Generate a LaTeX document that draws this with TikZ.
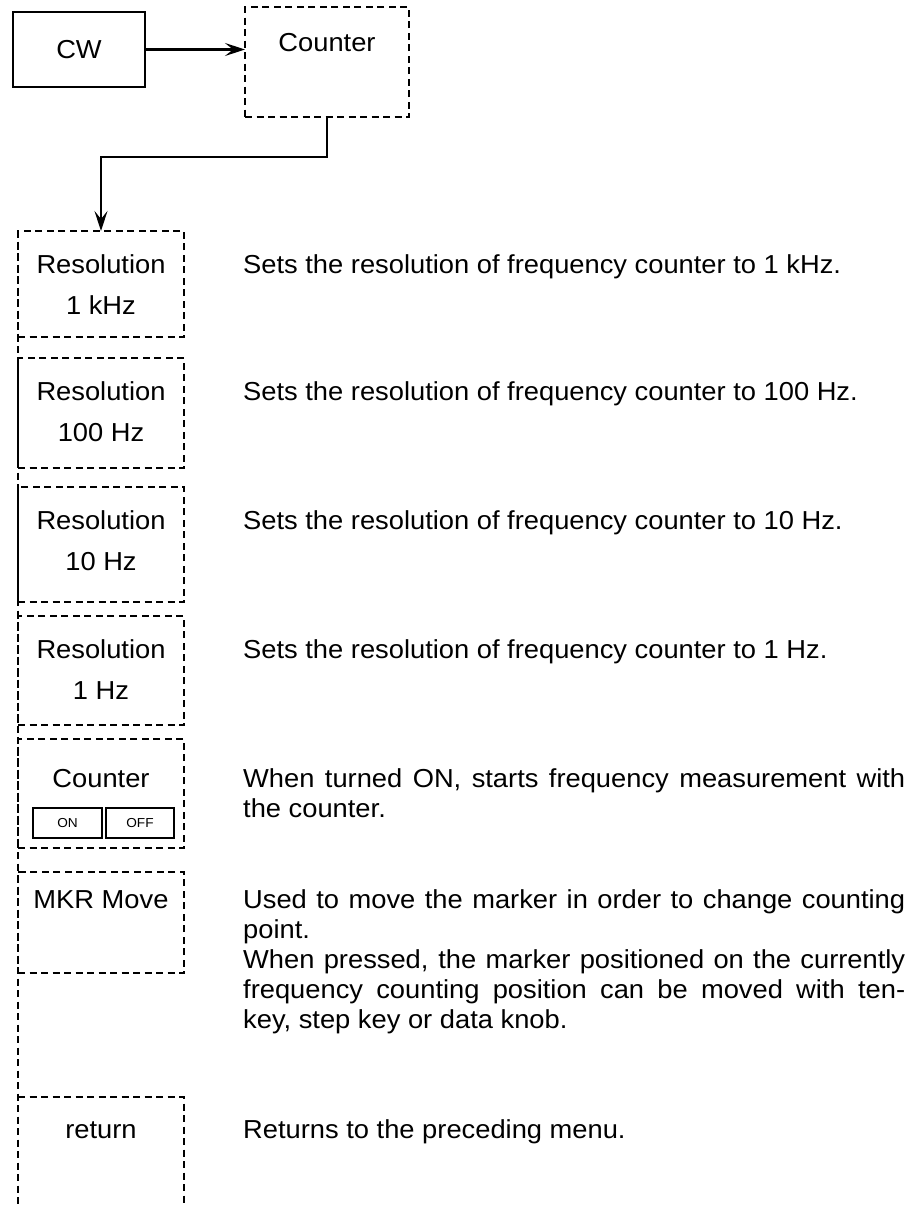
\documentclass[tikz,border=0pt]{standalone}
\usepackage{fontspec}
\setmainfont[FakeStretch=1.05]{Liberation Sans}
\usetikzlibrary{arrows.meta}

\tikzset{
  keyline/.style={line width=1.8pt, dash pattern=on 7pt off 4.5pt},
  keybox/.style={draw, keyline, anchor=north west, minimum width=166pt, inner sep=0pt, outer sep=0pt},
  keytext/.style={anchor=base, inner sep=0pt, font=\fontsize{26}{30}\selectfont},
  smallkey/.style={draw, line width=1.8pt, anchor=north west, minimum height=30pt, inner sep=0pt, outer sep=0pt, font=\fontsize{13}{15}\selectfont},
  desc/.style={anchor=base west, inner sep=0pt, font=\fontsize{26}{30}\selectfont},
  flow/.style={line width=2.2pt, -{Stealth[length=20pt, width=13pt, inset=8pt]}},
}

\begin{document}
\begin{tikzpicture}[x=1pt, y=-1pt]
  \useasboundingbox (0,0) rectangle (919,1205);
  % 上段のメニュー
  \node[draw, line width=2.4pt, anchor=north west, minimum width=132pt, minimum height=75pt, inner sep=0pt, outer sep=0pt, font=\fontsize{26}{30}\selectfont] (cw) at (13,12) {CW};
  \node[keybox, minimum width=164pt, minimum height=110pt] (ctr) at (245,7) {};
  \node[keytext] (ctrname) at (327,51) {Counter};

  % 分解能キー
  \foreach \i/\t/\b/\v in {1/231/337/1 kHz, 2/358/468/100 Hz, 3/487/602/10 Hz, 4/616/725/1 Hz} {
    \node[keybox, minimum height={\b-\t}] (key\i) at (18,\t) {};
    \node[keytext] (res\i) at (101,\t+42) {Resolution};
    \node[keytext] (val\i) at (101,\t+83) {\v};
    \node[desc] (desc\i) at (243,\t+42) {\parbox[t]{662pt}{Sets the resolution of frequency counter to \v.}};
  }

  % メニュー間の矢印
  \draw[flow] (cw.east) -- (cw.east -| ctr.west);
  \draw[flow] (ctr.south) -- ++(0,40) -| (key1.north);

  % カウンタ ON/OFF
  \node[keybox, minimum height=109pt] (key5) at (18,739) {};
  \node[keytext] (ctrkey) at (101,787) {Counter};
  \node[smallkey, minimum width=69pt] (on) at (33,808) {ON};
  \node[smallkey, minimum width=68pt] (off) at (106,808) {OFF};
  \node[desc] (desc5) at (243,787) {\parbox[t]{662pt}{When turned ON, starts frequency measurement with\linebreak the counter.}};

  % マーカ移動
  \node[keybox, minimum height=101pt] (key6) at (18,872) {};
  \node[keytext] (mkr) at (101,908) {MKR Move};
  \node[desc] (desc6) at (243,908) {\parbox[t]{662pt}{Used to move the marker in order to change counting\linebreak point.\\
    When pressed, the marker positioned on the currently\linebreak frequency counting position can be moved with ten-\linebreak key, step key or data knob.}};

  % 戻る
  \coordinate (retnw) at (18,1097);
  \draw[keyline] (retnw) -| (184,1205);
  \node[keytext] (ret) at (101,1138) {return};
  \node[desc] (desc7) at (243,1138) {Returns to the preceding menu.};

  % 左側の縦線
  \draw[keyline] (key1.north west) -- (18,1205);
\end{tikzpicture}
\end{document}
